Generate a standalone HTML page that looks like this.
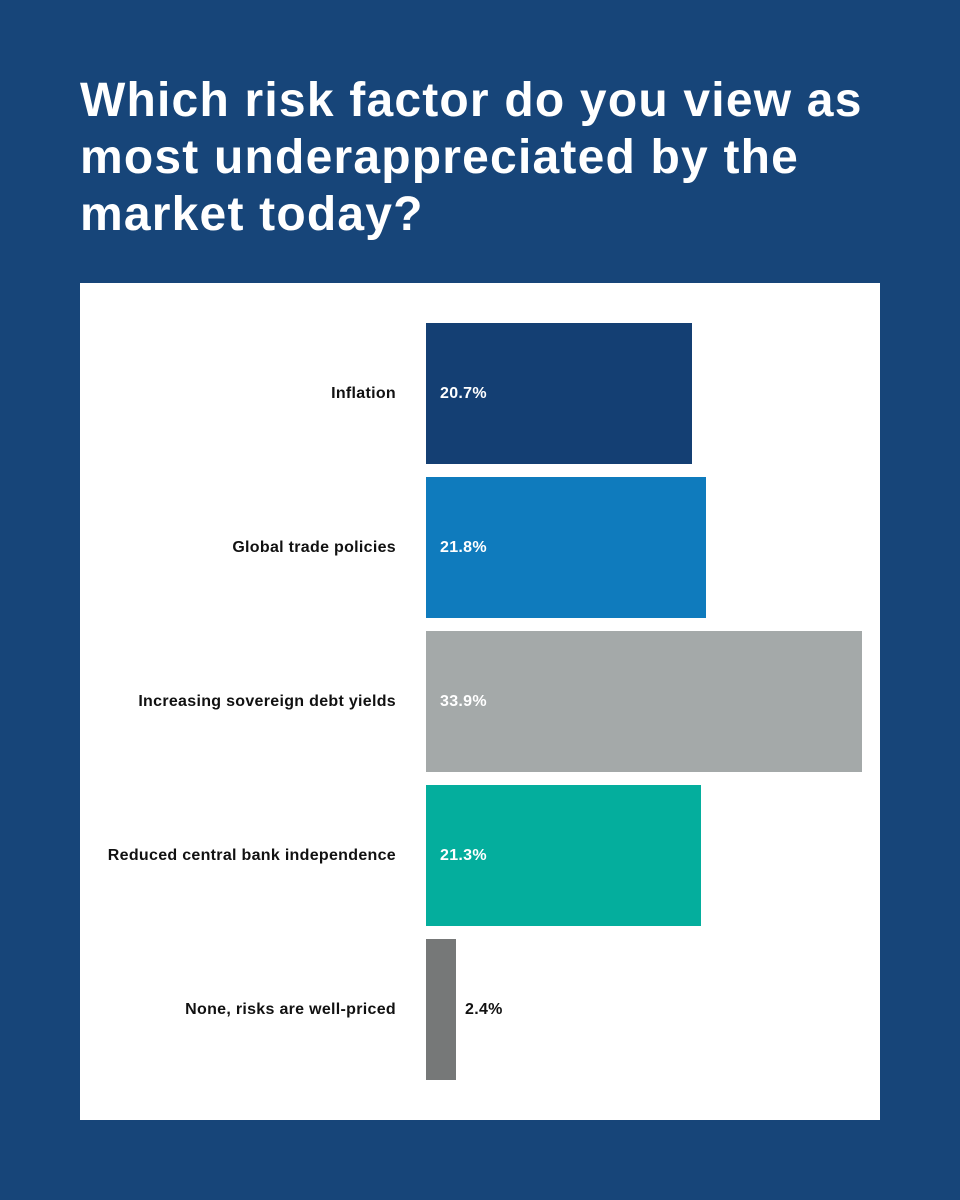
<!DOCTYPE html>
<html><head><style>
body{margin:0;width:960px;height:1200px;background:#174579;font-family:"Liberation Sans",sans-serif;position:relative;overflow:hidden}
h1{position:absolute;left:80px;top:72px;margin:0;color:#fff;font-size:48px;line-height:57px;font-weight:bold;letter-spacing:1.2px}
.panel{position:absolute;left:80px;top:283px;width:800px;height:837px;background:#fff}
.bar{position:absolute;left:426px;height:141px}
.lab{position:absolute;right:564px;font-size:16px;font-weight:bold;letter-spacing:0.3px;color:#111;white-space:nowrap;transform:translateY(-50%)}
.val{position:absolute;font-size:16px;font-weight:bold;letter-spacing:0.3px;color:#fff;transform:translateY(-50%)}
</style></head><body>
<h1>Which risk factor do you view as<br>most underappreciated by the<br>market today?</h1>
<div class="panel"></div>
<div class="bar" style="top:323px;width:266px;background:#143f73"></div>
<div class="bar" style="top:477px;width:280px;background:#0f7bbd"></div>
<div class="bar" style="top:631px;width:436px;background:#a4a9a9"></div>
<div class="bar" style="top:785px;width:275px;background:#04ae9d"></div>
<div class="bar" style="top:939px;width:30px;background:#767878"></div>
<div class="lab" style="top:394px">Inflation</div>
<div class="lab" style="top:548px">Global trade policies</div>
<div class="lab" style="top:702px">Increasing sovereign debt yields</div>
<div class="lab" style="top:856px">Reduced central bank independence</div>
<div class="lab" style="top:1010px">None, risks are well-priced</div>
<div class="val" style="left:440px;top:394px">20.7%</div>
<div class="val" style="left:440px;top:548px">21.8%</div>
<div class="val" style="left:440px;top:702px">33.9%</div>
<div class="val" style="left:440px;top:856px">21.3%</div>
<div class="val" style="left:465px;top:1010px;color:#111">2.4%</div>
</body></html>
